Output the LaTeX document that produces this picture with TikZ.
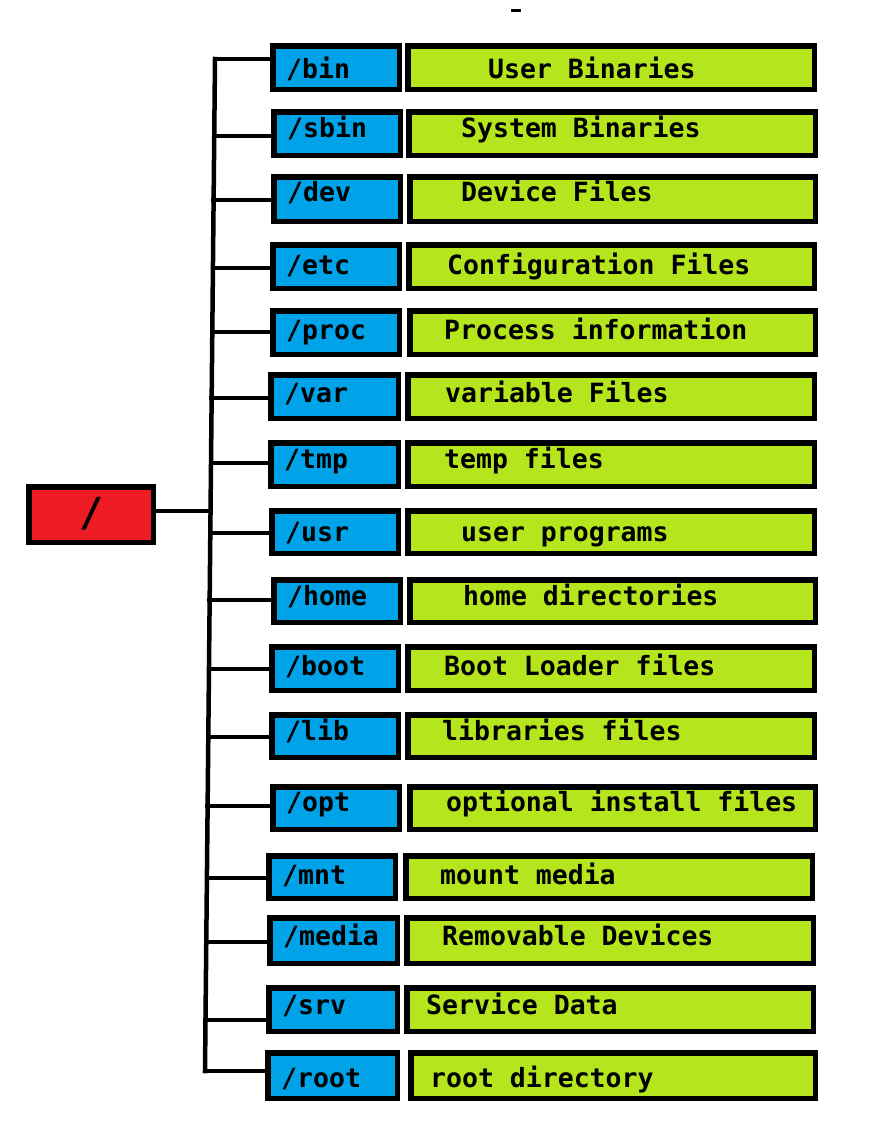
\documentclass[tikz,border=0pt]{standalone}
\usepackage{fontspec}
\newfontfamily\pixelmono{DejaVu Sans Mono}
\definecolor{dirblue}{HTML}{00A2E8}
\definecolor{desclime}{HTML}{B5E61D}
\definecolor{rootred}{HTML}{ED1C24}
\begin{document}
\begin{tikzpicture}[x=1pt,y=-1pt,
  box/.style={draw=black, line width=5.5pt, inner sep=0pt, anchor=north west},
  lbl/.style={inner sep=0pt, anchor=base west, font=\pixelmono\bfseries\fontsize{26.5}{26.5}\selectfont},
  conn/.style={draw=black, line width=4.5pt, line cap=rect}]
\useasboundingbox (0,0) rectangle (868,1146);

% stray tick at the top
\fill (511,9) rectangle (521,12);

% root directory
\node[box, fill=rootred, minimum width=124.5pt, minimum height=55.5pt] (root) at (26,484) {};
\node[inner sep=0pt, font=\pixelmono\bfseries\fontsize{40}{40}\selectfont] (rootlbl) at (92,514) {/};

% one row per top-level directory:
% name / description / blue x1 / blue x2 / lime x1 / lime x2 / top / bottom / desc x / branch y / text y
\foreach \nm/\desc/\bx/\br/\gx/\gr/\yt/\yb/\dx/\by/\ty [count=\i] in {
  bin/User Binaries/270/402/405/817/43/92/488/59/69,
  sbin/System Binaries/271/403/406/818/109/158/461/136/128,
  dev/Device Files/271/403/407/818/174/224/461/200/192,
  etc/Configuration Files/270/402/406/817/242/291/447/268/265,
  proc/Process information/270/402/407/818/308/357/444/332/330,
  var/variable Files/268/401/405/817/372/421/445/398/393,
  tmp/temp files/268/401/405/817/440/489/444/463/459,
  usr/user programs/269/401/405/817/508/556/461/533/532,
  home/home directories/271/403/407/818/577/625/463/600/596,
  boot/Boot Loader files/269/401/405/817/644/693/444/669/666,
  lib/libraries files/269/401/405/817/712/760/442/737/731,
  opt/optional install files/270/402/407/818/784/832/446/806/802,
  mnt/mount media/266/398/403/815/853/901/440/878/875,
  media/Removable Devices/267/400/404/816/915/966/442/942/936,
  srv/Service Data/266/400/404/816/985/1034/426/1020/1005,
  root/root directory/265/400/408/818/1050/1101/430/1071/1078}
{
  \node[box, fill=dirblue, minimum width={\br-\bx-5.5}, minimum height={\yb-\yt-5.5}] (b\i) at (\bx,\yt) {};
  \node[box, fill=desclime, minimum width={\gr-\gx-5.5}, minimum height={\yb-\yt-5.5}] (g\i) at (\gx,\yt) {};
  \node[lbl] (bl\i) at (\bx+16,\ty+9.5) {/\nm};
  \node[lbl] (gl\i) at (\dx,\ty+9.5) {\desc};
  \pgfmathsetmacro\tx{215-(\by-59)*10/1012}
  \coordinate (t\i) at (\tx,\by);
  \draw[conn] (t\i) -- (t\i -| b\i.west);
}

% trunk and the link from the root
\coordinate (tr) at (210,511);
\draw[conn] (t1) -- (t16);
\draw[conn] (tr -| root.east) -- (tr);
\end{tikzpicture}
\end{document}
